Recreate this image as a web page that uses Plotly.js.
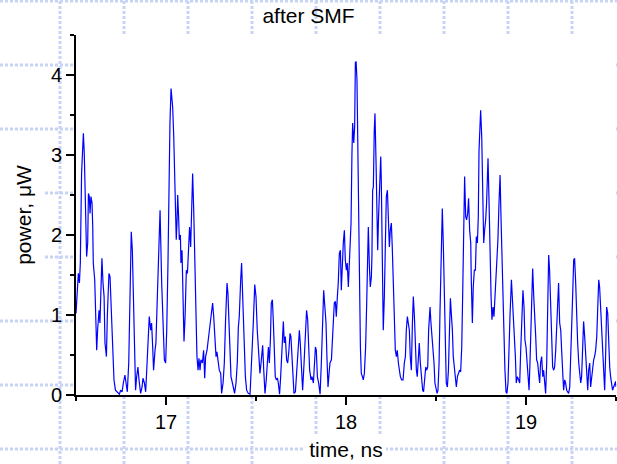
<!DOCTYPE html>
<html>
<head>
<meta charset="utf-8">
<script src="https://cdn.plot.ly/plotly-3.0.1.min.js"></script>
<style>
  html, body { margin: 0; padding: 0; background: #ffffff; }
  #chart { width: 617px; height: 464px; }
</style>
</head>
<body>
<div id="chart"></div>
<script>
// Detected optical power after the single-mode fibre, sampled in time
const timeNs = [
  16.500,16.507,16.513,16.519,16.524,16.531,16.541,16.546,16.552,16.556,16.559,16.565,16.569,16.574,16.578,16.583,16.589,16.593,16.596,16.604,
  16.609,16.615,16.620,16.628,16.633,16.639,16.644,16.650,16.656,16.661,16.669,16.674,16.683,16.689,16.696,16.704,16.711,16.719,16.730,16.741,
  16.748,16.756,16.763,16.772,16.778,16.785,16.793,16.800,16.807,16.813,16.819,16.826,16.831,16.837,16.844,16.850,16.859,16.867,16.872,16.880,
  16.887,16.893,16.898,16.907,16.915,16.920,16.926,16.931,16.939,16.944,16.952,16.959,16.967,16.976,16.985,16.991,16.998,17.004,17.011,17.017,
  17.022,17.028,17.033,17.037,17.043,17.048,17.054,17.057,17.061,17.065,17.070,17.074,17.080,17.083,17.089,17.094,17.100,17.106,17.113,17.119,
  17.126,17.131,17.137,17.144,17.148,17.154,17.159,17.167,17.172,17.178,17.183,17.189,17.194,17.202,17.209,17.215,17.220,17.228,17.235,17.243,
  17.248,17.254,17.259,17.265,17.270,17.278,17.283,17.291,17.296,17.304,17.309,17.317,17.324,17.331,17.339,17.344,17.350,17.356,17.361,17.369,
  17.374,17.381,17.389,17.396,17.402,17.407,17.415,17.420,17.426,17.433,17.441,17.448,17.457,17.467,17.476,17.485,17.493,17.500,17.507,17.515,
  17.522,17.528,17.533,17.537,17.543,17.550,17.557,17.563,17.569,17.574,17.580,17.585,17.591,17.596,17.602,17.607,17.613,17.619,17.624,17.631,
  17.637,17.643,17.648,17.652,17.657,17.663,17.670,17.676,17.683,17.689,17.694,17.700,17.706,17.711,17.719,17.726,17.733,17.741,17.746,17.752,
  17.759,17.767,17.774,17.781,17.787,17.793,17.798,17.806,17.811,17.819,17.824,17.830,17.835,17.841,17.848,17.856,17.863,17.870,17.876,17.881,
  17.889,17.894,17.900,17.906,17.911,17.919,17.924,17.930,17.935,17.941,17.946,17.952,17.957,17.963,17.969,17.974,17.980,17.985,17.991,17.996,
  18.002,18.007,18.013,18.019,18.022,18.028,18.033,18.037,18.043,18.048,18.052,18.056,18.061,18.065,18.069,18.074,18.080,18.085,18.091,18.096,
  18.102,18.109,18.115,18.120,18.124,18.130,18.135,18.141,18.144,18.148,18.152,18.157,18.161,18.167,18.172,18.176,18.181,18.187,18.193,18.196,
  18.202,18.207,18.213,18.219,18.224,18.230,18.235,18.241,18.246,18.252,18.257,18.263,18.269,18.274,18.280,18.285,18.291,18.296,18.302,18.309,
  18.317,18.324,18.330,18.335,18.341,18.346,18.352,18.357,18.363,18.369,18.374,18.380,18.385,18.391,18.396,18.402,18.407,18.413,18.419,18.426,
  18.431,18.437,18.443,18.448,18.454,18.459,18.467,18.472,18.478,18.483,18.489,18.494,18.500,18.506,18.511,18.517,18.522,18.530,18.535,18.541,
  18.546,18.552,18.557,18.563,18.569,18.574,18.580,18.585,18.591,18.596,18.602,18.607,18.613,18.619,18.626,18.631,18.637,18.643,18.648,18.654,
  18.659,18.665,18.670,18.676,18.681,18.687,18.693,18.696,18.702,18.707,18.713,18.719,18.724,18.730,18.735,18.739,18.744,18.748,18.754,18.759,
  18.765,18.770,18.776,18.781,18.789,18.794,18.800,18.806,18.811,18.817,18.822,18.828,18.833,18.839,18.844,18.850,18.856,18.861,18.867,18.872,
  18.878,18.883,18.889,18.894,18.900,18.906,18.911,18.919,18.924,18.930,18.935,18.941,18.946,18.952,18.959,18.965,18.970,18.978,18.983,18.989,
  18.994,19.000,19.006,19.011,19.017,19.022,19.028,19.033,19.037,19.043,19.048,19.054,19.059,19.065,19.070,19.076,19.081,19.087,19.093,19.098,
  19.104,19.109,19.115,19.120,19.126,19.131,19.137,19.143,19.148,19.154,19.159,19.165,19.170,19.176,19.181,19.187,19.193,19.198,19.204,19.209,
  19.215,19.220,19.226,19.231,19.237,19.243,19.248,19.254,19.259,19.265,19.270,19.276,19.281,19.287,19.293,19.298,19.304,19.309,19.315,19.320,
  19.326,19.331,19.337,19.343,19.348,19.354,19.359,19.365,19.370,19.376,19.381,19.387,19.393,19.398,19.404,19.409,19.415,19.420,19.426,19.431,
  19.437,19.443,19.448,19.454,19.459,19.465,19.470,19.476,19.481,19.487,19.493,19.498,19.500
];
const powerUW = [
  1.02,1.35,1.52,1.40,1.65,2.77,3.27,3.02,2.40,2.27,1.73,1.90,2.52,2.48,2.27,2.48,2.40,2.10,1.65,1.44,
  1.02,0.56,0.81,1.06,0.90,1.40,1.71,1.40,1.23,0.65,0.48,0.98,1.52,1.48,1.06,0.65,0.19,0.06,0.04,0.01,
  0.06,0.04,0.15,0.25,0.15,0.04,0.40,1.23,2.04,1.81,1.23,0.40,0.06,0.23,0.35,0.19,0.02,0.10,0.21,0.15,
  0.04,0.31,0.56,0.98,0.81,0.90,0.60,0.31,0.56,0.65,1.23,1.73,2.31,1.40,0.81,0.44,0.40,0.81,1.65,2.98,
  3.40,3.83,3.73,3.60,3.23,2.81,2.15,1.94,2.15,2.50,2.23,1.94,2.00,1.65,1.81,1.23,0.67,0.98,1.56,1.52,
  2.02,2.10,1.85,2.40,2.77,2.31,1.73,1.02,0.48,0.31,0.46,0.31,0.44,0.40,0.56,0.21,0.48,0.56,0.69,0.85,
  0.94,1.02,1.15,0.98,0.81,0.48,0.54,0.40,0.31,0.27,0.02,0.15,0.40,0.94,1.40,1.27,0.90,0.56,0.23,0.15,
  0.10,0.02,0.15,0.40,0.85,0.98,1.44,1.65,1.23,0.65,0.23,0.06,0.02,0.01,0.40,0.90,1.38,1.23,0.81,0.48,
  0.27,0.40,0.56,0.62,0.31,0.02,0.19,0.40,0.60,0.40,0.69,1.15,1.19,0.94,0.56,0.23,0.19,0.21,0.15,0.01,
  0.23,0.56,0.90,0.92,0.65,0.73,0.44,0.40,0.56,0.77,0.73,0.40,0.15,0.02,0.04,0.31,0.60,0.81,0.65,0.27,
  0.06,0.40,0.81,1.06,0.94,0.56,0.31,0.19,0.23,0.15,0.40,0.60,0.56,0.23,0.15,0.01,0.40,0.98,1.31,1.15,
  0.90,0.48,0.10,0.27,0.40,0.44,0.73,0.98,1.15,1.17,0.98,1.23,1.40,1.77,1.81,1.31,1.69,1.90,2.06,1.69,
  1.56,1.65,1.35,1.73,1.81,2.15,3.02,3.40,3.15,3.35,4.15,4.17,3.94,3.40,2.81,1.65,0.60,0.27,0.23,0.19,
  0.27,0.60,1.15,1.85,2.10,1.60,1.35,1.48,1.73,2.56,2.60,3.31,3.52,2.90,2.23,1.81,2.23,2.69,2.98,2.69,
  1.73,0.81,1.23,1.98,2.48,2.56,2.06,1.85,2.06,2.15,1.85,1.27,0.81,0.56,0.48,0.56,0.40,0.31,0.23,0.19,
  0.19,0.40,0.48,0.81,0.98,0.90,0.81,0.48,0.31,0.90,1.23,0.98,0.56,0.31,0.23,0.56,0.65,0.40,0.23,0.06,
  0.04,0.23,0.35,0.31,0.35,0.81,1.10,0.90,0.73,0.65,0.40,0.15,0.06,0.02,0.06,0.40,1.02,1.65,2.33,1.85,
  1.23,0.44,0.15,0.10,0.31,0.73,1.21,1.02,0.81,0.48,0.31,0.23,0.10,0.23,0.27,0.31,0.29,0.60,1.23,2.06,
  2.73,2.23,2.19,2.27,2.46,2.06,1.90,1.44,0.90,1.35,1.56,1.56,1.98,1.90,2.23,3.06,3.40,3.56,3.23,2.69,
  1.90,2.06,2.19,2.40,2.96,2.48,1.69,1.23,0.94,1.10,0.98,1.23,1.40,1.73,1.94,2.40,2.75,2.23,1.65,1.40,
  0.81,0.31,0.04,0.02,0.15,0.48,0.98,1.44,1.23,0.98,0.81,0.48,0.15,0.23,0.19,0.15,0.52,0.98,1.31,1.10,
  0.69,0.60,0.40,0.15,0.06,0.40,0.94,1.52,1.58,1.23,1.06,0.73,0.44,0.40,0.27,0.15,0.40,0.48,0.23,0.31,
  0.15,0.02,0.40,1.23,1.75,1.56,1.02,0.56,0.35,0.31,0.35,0.56,0.90,1.27,1.40,0.90,0.81,0.56,0.19,0.06,
  0.19,0.15,0.06,0.04,0.02,0.10,0.40,0.90,1.23,1.69,1.71,1.40,0.98,0.65,0.40,0.23,0.15,0.23,0.65,0.92,
  0.73,0.56,0.23,0.06,0.31,0.40,0.10,0.23,0.31,0.44,0.48,0.56,0.73,1.02,1.44,1.35,1.06,0.73,0.40,0.15,
  0.06,0.56,1.10,1.02,0.60,0.35,0.23,0.15,0.06,0.10,0.15,0.17,0.10
];

// axis ticks
const xRange = [16.5, 19.5];
const yRange = [0, 4.5];
const xMajorTicks = [17, 18, 19];
const xMinorTicks = [16.5, 17.5, 18.5, 19.5];
const yMajorTicks = [0, 1, 2, 3, 4];
const yMinorTicks = [0.5, 1.5, 2.5, 3.5, 4.5];

// page geometry
const W = 617, H = 464;
const M = { l: 76, r: 1, t: 35, b: 69 };
const plotW = W - M.l - M.r, plotH = H - M.t - M.b;
const toPaperX = px => (px - M.l) / plotW;
const toPaperY = py => (H - M.b - py) / plotH;

// light-blue dotted backdrop lattice on a 64 px pitch, hidden behind the plot area
const dotted = { color: '#c8d4f6', width: 3, dash: '3px,2px' };
const shapes = [];
for (let gx = -4; gx <= W; gx += 64) {
  shapes.push({ type: 'line', xref: 'paper', yref: 'paper', layer: 'below',
    x0: toPaperX(gx), x1: toPaperX(gx), y0: toPaperY(H), y1: toPaperY(0), line: dotted });
}
for (let gy = 1; gy <= H; gy += 64) {
  shapes.push({ type: 'line', xref: 'paper', yref: 'paper', layer: 'below',
    x0: toPaperX(0), x1: toPaperX(W), y0: toPaperY(gy), y1: toPaperY(gy), line: dotted });
}
const whiteBox = (x0, y0, x1, y1) => ({ type: 'rect', xref: 'paper', yref: 'paper', layer: 'below',
  x0: toPaperX(x0), x1: toPaperX(x1), y0: toPaperY(y1), y1: toPaperY(y0),
  fillcolor: '#ffffff', line: { width: 0 } });
shapes.push(whiteBox(M.l, M.t, W - M.r, H - M.b));   // plot area
shapes.push(whiteBox(305, 436, 386, H));             // behind x-axis title
shapes.push(whiteBox(0, 150, 44, 292));              // behind y-axis title

const font = 'Liberation Sans, Arial, sans-serif';

const trace = {
  x: timeNs, y: powerUW, type: 'scatter', mode: 'lines',
  line: { color: '#0000ff', width: 1.2 },
  hoverinfo: 'x+y'
};

const axisCommon = {
  showline: true, linecolor: '#000000', linewidth: 2, mirror: false,
  showgrid: false, zeroline: false,
  ticks: 'outside', ticklen: 8, tickwidth: 2, tickcolor: '#000000',
  tickfont: { family: font, size: 20, color: '#000000' },
  tickmode: 'array', fixedrange: true
};

const layout = {
  width: W, height: H,
  margin: M,
  paper_bgcolor: '#ffffff',
  plot_bgcolor: 'rgba(0,0,0,0)',
  showlegend: false,
  title: { text: 'after SMF', font: { family: font, size: 21, color: '#000000' },
           x: 0.5, xref: 'container', xanchor: 'center',
           y: 1 - 16 / H, yref: 'container', yanchor: 'middle' },
  xaxis: Object.assign({}, axisCommon, {
    range: xRange, tickvals: xMajorTicks, ticktext: xMajorTicks.map(String),
    minor: { tickmode: 'array', tickvals: xMinorTicks, ticks: 'outside', ticklen: 4, tickwidth: 2, tickcolor: '#000000' },
    title: { text: 'time, ns', font: { family: font, size: 21, color: '#000000' }, standoff: 10 }
  }),
  yaxis: Object.assign({}, axisCommon, {
    range: yRange, tickvals: yMajorTicks, ticktext: yMajorTicks.map(String),
    minor: { tickmode: 'array', tickvals: yMinorTicks, ticks: 'outside', ticklen: 4, tickwidth: 2, tickcolor: '#000000' },
    title: { text: 'power, \u03bcW', font: { family: font, size: 21, color: '#000000' }, standoff: 14 }
  }),
  shapes: shapes
};

Plotly.newPlot('chart', [trace], layout, { staticPlot: true, displayModeBar: false });
</script>
</body>
</html>
